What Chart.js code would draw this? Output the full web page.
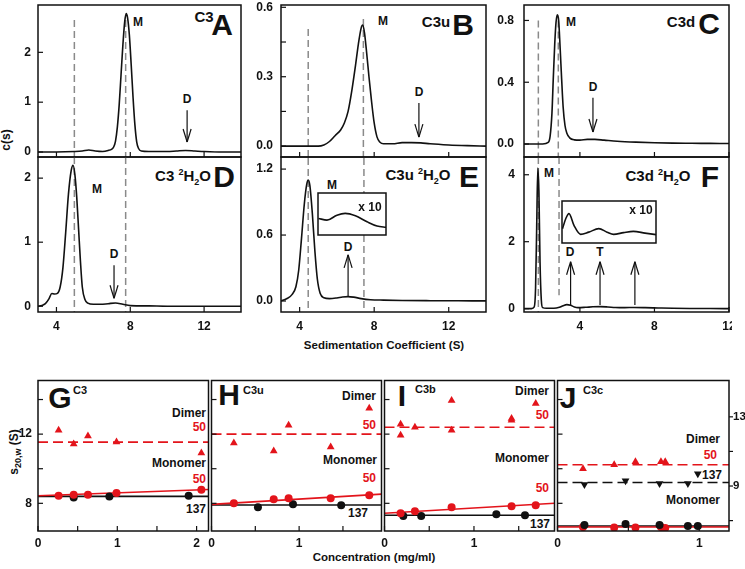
<!DOCTYPE html>
<html>
<head>
<meta charset="utf-8">
<title>c(s) distributions and s20,w vs concentration</title>
<script src="https://cdn.jsdelivr.net/npm/chart.js@4.4.1/dist/chart.umd.min.js"></script>
<style>
  body { margin: 0; background: #fff; }
  #fig { position: relative; width: 745px; height: 569px; overflow: hidden; background: #fff;
         font-family: "Liberation Sans", Arial, sans-serif; font-weight: bold; color: #111; }
  #fig canvas { position: absolute; }
  .lb { position: absolute; transform: translate(-50%, -50%); white-space: nowrap; font-size: 12px; line-height: 1; }
  .rt { position: absolute; transform: translate(-100%, -50%); white-space: nowrap; font-size: 12px; line-height: 1; }
  .lt { position: absolute; transform: translate(0, -50%); white-space: nowrap; font-size: 11px; line-height: 1; }
  .nm { font-size: 15px; }
  .big { font-size: 30px; }
  .red { color: #e3141b; }
  .top { z-index: 5; }
  sup, sub { font-size: 9px; line-height: 0; }
</style>
</head>
<body>
<div id="fig">
  <!-- top row labels -->
  <div class="lb nm" style="left:204px;top:16px">C3</div>
  <div class="lb big" style="left:222px;top:25px">A</div>
  <div class="lb" style="left:138px;top:22px">M</div>
  <div class="lb" style="left:187px;top:99px">D</div>

  <div class="lb nm" style="left:436px;top:21px">C3u</div>
  <div class="lb big" style="left:463px;top:25px">B</div>
  <div class="lb" style="left:383px;top:21px">M</div>
  <div class="lb" style="left:419px;top:92px">D</div>

  <div class="lb nm" style="left:681px;top:21px">C3d</div>
  <div class="lb big" style="left:709px;top:24px">C</div>
  <div class="lb" style="left:571px;top:22px">M</div>
  <div class="lb" style="left:593px;top:87px">D</div>

  <div class="lb nm" style="left:183px;top:175px">C3 <sup>2</sup>H<sub>2</sub>O</div>
  <div class="lb big" style="left:224px;top:177px">D</div>
  <div class="lb" style="left:97px;top:189px">M</div>
  <div class="lb" style="left:114px;top:254px">D</div>

  <div class="lb nm" style="left:418px;top:174px">C3u <sup>2</sup>H<sub>2</sub>O</div>
  <div class="lb big" style="left:469px;top:177px">E</div>
  <div class="lb" style="left:332px;top:185px">M</div>
  <div class="lb" style="left:348px;top:247px">D</div>

  <div class="lb nm" style="left:658px;top:175px">C3d <sup>2</sup>H<sub>2</sub>O</div>
  <div class="lb big" style="left:710px;top:177px">F</div>
  <div class="lb" style="left:549px;top:173px">M</div>
  <div class="lb" style="left:570px;top:252px">D</div>
  <div class="lb" style="left:600px;top:252px">T</div>

  <div class="lb" style="left:6px;top:140px;transform:translate(-50%,-50%) rotate(-90deg)">c(s)</div>
  <div class="lb" style="left:384px;top:346px;font-size:11.5px">Sedimentation Coefficient (S)</div>

  <!-- bottom row labels -->
  <div class="lb big" style="left:60px;top:398px">G</div>
  <div class="lt" style="left:73px;top:390px">C3</div>
  <div class="rt" style="left:206px;top:413px">Dimer</div>
  <div class="rt red" style="left:206px;top:427px">50</div>
  <div class="rt" style="left:206px;top:463px">Monomer</div>
  <div class="rt red" style="left:206px;top:479px">50</div>
  <div class="rt" style="left:206px;top:509px">137</div>

  <div class="lb big" style="left:229px;top:395px">H</div>
  <div class="lt" style="left:243px;top:390px">C3u</div>
  <div class="rt" style="left:376px;top:396px">Dimer</div>
  <div class="rt red" style="left:376px;top:425px">50</div>
  <div class="rt" style="left:377px;top:460px">Monomer</div>
  <div class="rt red" style="left:376px;top:478px">50</div>
  <div class="rt" style="left:368px;top:513px">137</div>

  <div class="lb big" style="left:402px;top:396px">I</div>
  <div class="lt" style="left:415px;top:389px">C3b</div>
  <div class="rt" style="left:549px;top:391px">Dimer</div>
  <div class="rt red" style="left:549px;top:415px">50</div>
  <div class="rt" style="left:549px;top:458px">Monomer</div>
  <div class="rt red" style="left:549px;top:488px">50</div>
  <div class="rt" style="left:550px;top:524px">137</div>

  <div class="lb big" style="left:568px;top:398px">J</div>
  <div class="lt" style="left:583px;top:390px">C3c</div>
  <div class="rt" style="left:720px;top:439px">Dimer</div>
  <div class="rt red" style="left:717px;top:455px">50</div>
  <div class="rt" style="left:722px;top:475px">137</div>
  <div class="rt" style="left:720px;top:500px">Monomer</div>

  <div class="lb" style="left:14px;top:452px;transform:translate(-50%,-50%) rotate(-90deg)">s<sub>20,w</sub> (S)</div>
  <div class="lb" style="left:374px;top:558px;font-size:11.5px">Concentration (mg/ml)</div>

  <!-- inset magnification labels -->
  <div class="lb top" style="left:370px;top:207px">x 10</div>
  <div class="lb top" style="left:641px;top:210px">x 10</div>
</div>
<script>
// ---- c(s) distributions, top panels (s in S, c(s)) ----
const sA = [3, 4, 5, 5.4, 5.75, 6.1, 6.5, 6.8, 7.0, 7.1, 7.2, 7.3, 7.4, 7.5, 7.6, 7.7, 7.78, 7.85, 7.95, 8.05, 8.15, 8.25, 8.35, 8.45, 8.6, 9, 10, 10.5, 11, 11.5, 12, 13, 14];
const cA = [0, 0, 0.01, 0.02, 0.04, 0.02, 0.01, 0.03, 0.06, 0.1, 0.22, 0.5, 0.95, 1.55, 2.15, 2.62, 2.78, 2.7, 2.35, 1.75, 1.1, 0.55, 0.2, 0.07, 0.02, 0.01, 0.01, 0.02, 0.03, 0.02, 0.01, 0, 0];

const sB = [3, 4, 5, 5.3, 5.6, 5.9, 6.2, 6.4, 6.6, 6.8, 7.0, 7.15, 7.3, 7.38, 7.48, 7.6, 7.72, 7.85, 8.0, 8.15, 8.3, 8.5, 9, 9.5, 10, 10.5, 11, 12, 13, 14];
const cB = [0, 0, 0, 0.005, 0.02, 0.045, 0.07, 0.1, 0.15, 0.24, 0.35, 0.44, 0.51, 0.523, 0.49, 0.4, 0.3, 0.2, 0.1, 0.04, 0.018, 0.01, 0.01, 0.015, 0.015, 0.014, 0.01, 0.005, 0.002, 0];

const sC = [1, 1.5, 2, 2.3, 2.4, 2.5, 2.57, 2.65, 2.72, 2.79, 2.86, 2.94, 3.02, 3.1, 3.2, 3.3, 3.45, 3.7, 4.0, 4.4, 4.8, 5.3, 6, 7, 8, 9, 10, 11, 12];
const cC = [0, 0, 0, 0.01, 0.05, 0.2, 0.42, 0.65, 0.79, 0.837, 0.8, 0.62, 0.42, 0.24, 0.12, 0.07, 0.04, 0.027, 0.025, 0.03, 0.03, 0.025, 0.018, 0.012, 0.008, 0.006, 0.005, 0.004, 0.003];

const sD = [3, 3.2, 3.4, 3.6, 3.75, 3.9, 4.05, 4.2, 4.35, 4.5, 4.65, 4.8, 4.9, 5.0, 5.1, 5.2, 5.3, 5.4, 5.55, 5.7, 6.0, 6.4, 6.8, 7.2, 7.6, 8.0, 9, 10, 12, 14];
const cD = [0, 0.01, 0.04, 0.12, 0.2, 0.19, 0.2, 0.3, 0.6, 1.15, 1.75, 2.12, 2.2, 2.05, 1.7, 1.2, 0.7, 0.3, 0.1, 0.05, 0.03, 0.03, 0.04, 0.05, 0.03, 0.01, 0.005, 0, 0, 0];

const sE = [3, 3.3, 3.6, 3.8, 3.95, 4.1, 4.25, 4.38, 4.46, 4.55, 4.68, 4.82, 4.95, 5.1, 5.3, 5.6, 6.0, 6.3, 6.6, 6.9, 7.3, 7.8, 8.5, 9.5, 11, 12.5, 14];
const cE = [0, 0.02, 0.06, 0.13, 0.28, 0.57, 0.88, 1.06, 1.1, 1.05, 0.8, 0.45, 0.2, 0.07, 0.03, 0.022, 0.028, 0.036, 0.04, 0.035, 0.022, 0.012, 0.008, 0.005, 0.003, 0.002, 0.001];

const sF = [1, 1.4, 1.55, 1.62, 1.68, 1.74, 1.8, 1.86, 1.93, 2.0, 2.2, 2.6, 2.9, 3.1, 3.3, 3.5, 3.7, 3.9, 4.3, 4.7, 5.1, 5.5, 5.9, 6.4, 6.9, 7.5, 8.2, 9, 10, 11, 12];
const cF = [0, 0, 0.05, 0.6, 2.4, 4.2, 3.5, 1.4, 0.25, 0.03, 0.01, 0.01, 0.04, 0.09, 0.12, 0.1, 0.05, 0.03, 0.04, 0.055, 0.06, 0.05, 0.035, 0.03, 0.035, 0.03, 0.02, 0.01, 0.005, 0.003, 0];

// x10 insets in E and F
const sInsetE = [5.62, 5.97, 6.38, 6.72, 7.14, 7.62, 8.03, 8.42];
const cInsetE = [0.276, 0.248, 0.33, 0.36, 0.32, 0.22, 0.149, 0.127];
const sInsetF = [3.03, 3.23, 3.42, 3.72, 4.12, 4.61, 5.21, 5.71, 6.10, 6.70, 7.29, 7.99, 8.65];
const cInsetF = [0.58, 0.99, 1.19, 0.71, 0.35, 0.44, 0.58, 0.44, 0.35, 0.42, 0.47, 0.40, 0.34];

// grey dashed guides: s position, top and bottom of each line
const guideA = [4.97, 7.75], guideTopA = [2.65, 2.65], guideEndA = [-0.1, -0.1];
const guideB = [4.46, 7.42], guideTopB = [0.506, 0.55], guideEndB = [-0.047, -0.047];
const guideC = [1.77, 2.84], guideTopC = [0.8, 0.8], guideEndC = [-0.084, -0.084];
const guideD = [4.97, 7.75], guideTopD = [2.33, 2.33], guideEndD = [-0.09, -0.09];
const guideE = [4.46, 7.45], guideTopE = [1.3, 1.3], guideEndE = [-0.1, -0.1];
const guideF = [1.77, 2.88], guideTopF = [4.53, 4.53], guideEndF = [-0.1, 0.4];

// arrows: [s, tail c(s), head c(s)]
const arrowA = [[11.08, 0.84, 0.2]];
const arrowB = [[10.4, 0.186, 0.039]];
const arrowC = [[4.7, 0.3, 0.078]];
const arrowD = [[7.12, 0.64, 0.125]];
const arrowE = [[6.6, 0.045, 0.42]];
const arrowF = [[3.5, 0.11, 1.4], [5.08, 0.11, 1.4], [6.95, 0.11, 1.4]];

// ---- s20,w vs concentration, bottom panels ----
const concG = [0.26, 0.45, 0.63, 0.99, 2.06];
const dimerG = [12.23, 11.43, 11.89, 11.54, 10.91];
const mono50G = [8.44, 8.5, 8.5, 8.59, 8.78];
const conc137G = [0.45, 0.9, 1.9];
const mono137G = [8.34, 8.4, 8.44];
const dimerMeanG = 11.54, fit50G = [8.44, 8.8], fit137G = [8.4, 8.4];

const concH = [0.255, 0.71, 0.88, 1.36, 1.80];
const dimerH = [11.49, 11.03, 12.51, 11.26, 13.49];
const mono50H = [8.0, 8.23, 8.29, 8.29, 8.46];
const conc137H = [0.53, 0.93, 1.48];
const mono137H = [7.77, 7.94, 7.89];
const dimerMeanH = 12.0, fit50H = [7.94, 8.53], fit137H = [7.9, 7.9];

const concDimerI = [0.18, 0.18, 0.34, 0.75, 0.75, 1.42, 1.42, 1.69];
const dimerI = [12.57, 11.94, 12.4, 13.94, 12.23, 12.91, 12.8, 13.77];
const concI = [0.18, 0.34, 0.75, 1.42, 1.69];
const mono50I = [7.43, 7.54, 7.77, 7.83, 7.89];
const conc137I = [0.21, 0.41, 1.25, 1.57];
const mono137I = [7.26, 7.26, 7.37, 7.31];
const dimerMeanI = 12.4, fit50I = [7.43, 8.0], fit137I = [7.31, 7.31];

const concJ = [0.18, 0.4, 0.55, 0.73, 0.76];
const dimer50J = [10.0, 10.23, 10.4, 10.4, 10.4];
const mono50J = [6.63, 6.6, 6.6, 6.63, 6.58];
const conc137J = [0.19, 0.48, 0.72, 0.92, 0.99];
const dimer137J = [9.09, 9.31, 9.14, 9.14, 9.71];
const mono137J = [6.74, 6.8, 6.74, 6.69, 6.69];
const dimerMean50J = 10.23, dimerMean137J = 9.2, fit50J = [6.63, 6.63], fit137J = [6.69, 6.69];

const RED = '#e3141b';
const GREY = '#8a8a8a';
const INK = '#111';

Chart.defaults.font.family = '"Liberation Sans", Arial, sans-serif';
Chart.defaults.font.weight = 'bold';
Chart.defaults.font.size = 12;
Chart.defaults.color = INK;

const fig = document.getElementById('fig');

function pts(xs, ys) {
    return xs.map((x, i) => ({ x: x, y: ys[i] }));
}

function curve(xs, ys) {
    return { type: 'line', showLine: true, data: pts(xs, ys), borderColor: INK, borderWidth: 1.6,
             pointRadius: 0, cubicInterpolationMode: 'monotone', fill: false };
}

function guides(xs, tops, ends) {
    return xs.map((x, i) => ({ type: 'line', showLine: true, data: [{ x: x, y: tops[i] }, { x: x, y: ends[i] }],
             borderColor: GREY, borderWidth: 1.5, borderDash: [7, 4], pointRadius: 0 }));
}

function marks(xs, ys, color, style, rot) {
    return { type: 'scatter', data: pts(xs, ys), pointStyle: style, rotation: rot || 0,
             pointRadius: style === 'circle' ? 4 : 4.5, backgroundColor: color, borderColor: color, borderWidth: 0 };
}

function seg(x0, x1, y0, y1, color, dash) {
    return { type: 'line', showLine: true, data: [{ x: x0, y: y0 }, { x: x1, y: y1 }], borderColor: color,
             borderWidth: 1.6, borderDash: dash || [], pointRadius: 0 };
}

// frame, inward ticks and arrows drawn on top of the datasets
const framePlugin = {
    id: 'frame',
    beforeDraw(chart, args, o) {
        if (!o.fill) return;
        const a = chart.chartArea, ctx = chart.ctx;
        ctx.save();
        ctx.fillStyle = '#fff';
        ctx.fillRect(a.left, a.top, a.right - a.left, a.bottom - a.top);
        ctx.restore();
    },
    afterDatasetsDraw(chart, args, o) {
        const { ctx, chartArea: a, scales } = chart;
        const line = (x0, y0, x1, y1) => { ctx.beginPath(); ctx.moveTo(x0, y0); ctx.lineTo(x1, y1); ctx.stroke(); };
        ctx.save();
        ctx.strokeStyle = INK;
        ctx.lineWidth = 1.5;
        ctx.strokeRect(a.left, a.top, a.right - a.left, a.bottom - a.top);
        ctx.lineWidth = 1.2;
        (o.xt || []).forEach(v => { const x = scales.x.getPixelForValue(v); line(x, a.bottom, x, a.bottom - 5); });
        (o.yt || []).forEach(v => { const y = scales.y.getPixelForValue(v); line(a.left, y, a.left + 5, y); });
        (o.yr || []).forEach(v => { const y = scales.y.getPixelForValue(v); line(a.right, y, a.right + 4, y); });
        (o.arrows || []).forEach(([s, c0, c1]) => {
            const x = scales.x.getPixelForValue(s);
            const y0 = scales.y.getPixelForValue(c0), y1 = scales.y.getPixelForValue(c1);
            const d = Math.sign(y1 - y0);
            line(x, y0, x, y1);
            line(x - 4, y1 - d * 13, x, y1);
            line(x + 4, y1 - d * 13, x, y1);
        });
        ctx.restore();
    }
};

function zeroPad(s) {
    s.paddingLeft = 0; s.paddingRight = 0; s.paddingTop = 0; s.paddingBottom = 0;
}

function makeChart(p) {
    const [l, t, r, b] = p.box;
    const padL = p.padL, padR = p.padR || 3, padT = 3, padB = p.padB || 3;
    const cv = document.createElement('canvas');
    cv.width = r - l + padL + padR;
    cv.height = b - t + padT + padB;
    cv.style.left = (l - padL) + 'px';
    cv.style.top = (t - padT) + 'px';
    fig.appendChild(cv);

    const noGrid = { display: false, drawTicks: false };
    const scales = {
        x: {
            type: 'linear', min: p.xr[0], max: p.xr[1],
            grid: noGrid, border: { display: false },
            ticks: { display: !!p.xLab, padding: p.xPad || 7, maxRotation: 0, autoSkip: false },
            afterBuildTicks: s => { s.ticks = (p.xLab || [p.xr[0]]).map(v => ({ value: v })); },
            afterFit: s => { s.height = padB; zeroPad(s); }
        },
        y: {
            type: 'linear', min: p.yr[0], max: p.yr[1],
            grid: noGrid, border: { display: false },
            ticks: { display: !!p.yLab, padding: p.yPad || 6, callback: p.fmt || (v => v) },
            afterBuildTicks: s => { s.ticks = (p.yLab || [p.yr[0]]).map(v => ({ value: v })); },
            afterFit: s => { s.width = padL; zeroPad(s); }
        }
    };
    if (p.yRightLab) {
        scales.y2 = {
            type: 'linear', position: 'right', min: p.yr[0], max: p.yr[1],
            grid: noGrid, border: { display: false },
            ticks: { padding: 4, font: { size: 11.5 } },
            afterBuildTicks: s => { s.ticks = p.yRightLab.map(v => ({ value: v })); },
            afterFit: s => { s.width = padR; zeroPad(s); }
        };
    }

    return new Chart(cv, {
        type: 'scatter',
        data: { datasets: p.datasets },
        options: {
            responsive: false,
            animation: false,
            devicePixelRatio: 1,
            layout: { padding: { left: 0, top: padT, right: p.yRightLab ? 0 : padR, bottom: 0 } },
            plugins: {
                legend: { display: false },
                tooltip: { enabled: false },
                frame: { xt: p.xTk, yt: p.yTk, yr: p.yRightTk, arrows: p.arrows, fill: p.fill }
            },
            scales: scales
        },
        plugins: [framePlugin]
    });
}

// ---- top panels ----
const xTop = [4, 8, 12];
const fmt1 = v => v.toFixed(1);

makeChart({ box: [38, 5, 241, 157], xr: [3, 14], yr: [-0.1, 2.95], padL: 38, yPad: 7,
    yLab: [0, 1, 2], yTk: [0, 1, 2], xTk: xTop, arrows: arrowA,
    datasets: [curve(sA, cA), ...guides(guideA, guideTopA, guideEndA)] });

makeChart({ box: [281, 5, 486, 157], xr: [3, 14], yr: [-0.047, 0.61], padL: 36, yPad: 8, fmt: fmt1,
    yLab: [0, 0.3, 0.6], yTk: [0, 0.15, 0.3, 0.45, 0.6], xTk: xTop, arrows: arrowB,
    datasets: [curve(sB, cB), ...guides(guideB, guideTopB, guideEndB)] });

makeChart({ box: [524, 5, 729, 157], xr: [1, 12], yr: [-0.084, 0.9], padL: 36, yPad: 10, fmt: fmt1,
    yLab: [0, 0.4, 0.8], yTk: [0, 0.4, 0.8], xTk: xTop, arrows: arrowC,
    datasets: [curve(sC, cC), ...guides(guideC, guideTopC, guideEndC)] });

makeChart({ box: [38, 157, 241, 312], xr: [3, 14], yr: [-0.09, 2.33], padL: 38, padB: 26, yPad: 7,
    xLab: xTop, yLab: [0, 1, 2], yTk: [0, 1, 2], xTk: xTop, arrows: arrowD,
    datasets: [curve(sD, cD), ...guides(guideD, guideTopD, guideEndD)] });

makeChart({ box: [281, 157, 486, 312], xr: [3, 14], yr: [-0.1, 1.31], padL: 36, padB: 26, yPad: 8, fmt: fmt1,
    xLab: xTop, yLab: [0, 0.6, 1.2], yTk: [0, 0.6, 1.2], xTk: xTop, arrows: arrowE,
    datasets: [curve(sE, cE), ...guides(guideE, guideTopE, guideEndE)] });

makeChart({ box: [524, 157, 729, 312], xr: [1, 12], yr: [-0.1, 4.53], padL: 36, padB: 26, yPad: 9,
    xLab: xTop, yLab: [0, 2, 4], yTk: [0, 2, 4], xTk: xTop, arrows: arrowF,
    datasets: [curve(sF, cF), ...guides(guideF, guideTopF, guideEndF)] });

// x10 insets
makeChart({ box: [318, 193, 386, 235], xr: [5.6, 8.4], yr: [0, 0.7], padL: 1, padR: 1, padB: 1, fill: true,
    datasets: [curve(sInsetE, cInsetE)] });
makeChart({ box: [562, 201, 656, 243], xr: [3.0, 8.65], yr: [0, 1.7], padL: 1, padR: 1, padB: 1, fill: true,
    datasets: [curve(sInsetF, cInsetF)] });

// ---- bottom panels ----
const yBottom = [6.4, 15.1];
const yTkBottom = [8, 10, 12, 14];
const dash = [10, 5];

makeChart({ box: [38, 379, 210, 531], xr: [0, 2.15], yr: yBottom, padL: 38, padB: 26, yPad: 6, xPad: 5,
    xLab: [0, 1, 2], xTk: [0, 0.5, 1, 1.5, 2], yLab: [8, 12], yTk: yTkBottom,
    datasets: [
        marks(concG, dimerG, RED, 'triangle'),
        marks(concG, mono50G, RED, 'circle'),
        marks(conc137G, mono137G, INK, 'circle'),
        seg(0, 2.15, dimerMeanG, dimerMeanG, RED, dash),
        seg(0, 2.15, fit50G[0], fit50G[1], RED),
        seg(0, 2.15, fit137G[0], fit137G[1], INK)
    ] });

makeChart({ box: [210, 379, 383, 531], xr: [0, 1.94], yr: yBottom, padL: 3, padB: 26, xPad: 5,
    xLab: [0, 1], xTk: [0, 0.5, 1, 1.5], yTk: yTkBottom,
    datasets: [
        marks(concH, dimerH, RED, 'triangle'),
        marks(concH, mono50H, RED, 'circle'),
        marks(conc137H, mono137H, INK, 'circle'),
        seg(0, 1.94, dimerMeanH, dimerMeanH, RED, dash),
        seg(0, 1.94, fit50H[0], fit50H[1], RED),
        seg(0, 1.94, fit137H[0], fit137H[1], INK)
    ] });

makeChart({ box: [383, 379, 556, 531], xr: [0, 1.9], yr: yBottom, padL: 3, padB: 26, xPad: 5,
    xLab: [0, 1], xTk: [0, 0.5, 1, 1.5], yTk: yTkBottom,
    datasets: [
        marks(concDimerI, dimerI, RED, 'triangle'),
        marks(concI, mono50I, RED, 'circle'),
        marks(conc137I, mono137I, INK, 'circle'),
        seg(0, 1.9, dimerMeanI, dimerMeanI, RED, dash),
        seg(0, 1.9, fit50I[0], fit50I[1], RED),
        seg(0, 1.9, fit137I[0], fit137I[1], INK)
    ] });

makeChart({ box: [556, 379, 729, 531], xr: [0, 1.21], yr: yBottom, padL: 3, padR: 18, padB: 26, xPad: 5,
    xLab: [0, 1], xTk: [0, 0.5, 1], yTk: yTkBottom, yRightLab: [9, 13], yRightTk: [7, 9, 11, 13],
    datasets: [
        marks(concJ, dimer50J, RED, 'triangle'),
        marks(conc137J, dimer137J, INK, 'triangle', 180),
        marks(conc137J, mono137J, INK, 'circle'),
        marks(concJ, mono50J, RED, 'circle'),
        seg(0, 1.21, dimerMean50J, dimerMean50J, RED, dash),
        seg(0, 1.21, dimerMean137J, dimerMean137J, INK, dash),
        seg(0, 1.21, fit50J[0], fit50J[1], RED),
        seg(0, 1.21, fit137J[0], fit137J[1], INK)
    ] });
</script>
</body>
</html>
